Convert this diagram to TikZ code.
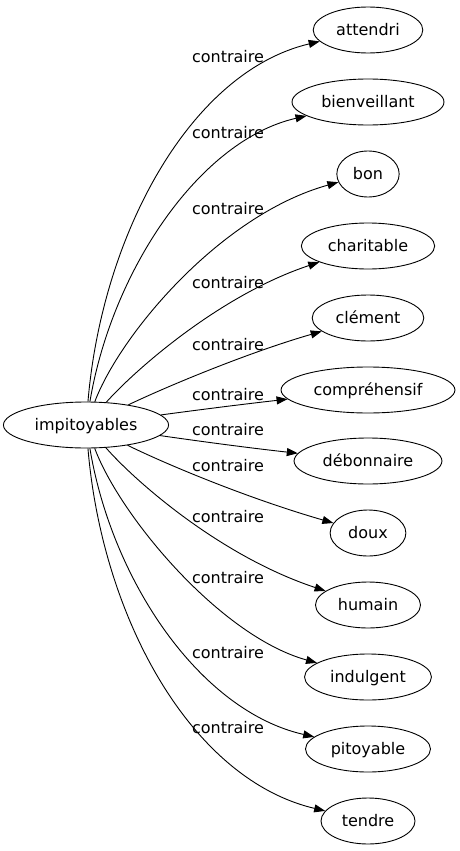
\documentclass[tikz,border=0pt]{standalone}
\usepackage{fontspec}
\setmainfont{DejaVu Sans}
\usetikzlibrary{shapes.geometric,arrows.meta}
\begin{document}
\begin{tikzpicture}[x=1pt,y=-1pt,
  word/.style={ellipse,draw,line width=0.9pt,inner xsep=7pt,inner ysep=2pt,
    minimum height=46pt,text height=12pt,text depth=1.5pt,
    font=\fontsize{16pt}{19pt}\selectfont},
  rel/.style={draw,line width=0.9pt,-{Triangle[length=11pt,width=8pt]}},
  lbl/.style={anchor=base,inner sep=0pt,font=\fontsize{16pt}{19pt}\selectfont}]
\useasboundingbox (0,0) rectangle (459,851);

\node[word] (imp) at (86,425) {impitoyables};
\node[word] (n1) at (368,30) {attendri};
\node[word] (n2) at (368,102) {bienveillant};
\node[word] (n3) at (368,174) {bon};
\node[word] (n4) at (368,246) {charitable};
\node[word] (n5) at (368,318) {clément};
\node[word] (n6) at (368,390) {compréhensif};
\node[word] (n7) at (368,461) {débonnaire};
\node[word] (n8) at (368,533) {doux};
\node[word] (n9) at (368,605) {humain};
\node[word] (n10) at (368,677) {indulgent};
\node[word] (n11) at (368,749) {pitoyable};
\node[word] (n12) at (368,821) {tendre};

\draw[rel] (imp) .. controls (102,235) and (190,72) .. (n1);
\draw[rel] (imp) .. controls (112,270) and (200,140) .. (n2);
\draw[rel] (imp) .. controls (120,335) and (220,215) .. (n3);
\draw[rel] (imp) .. controls (135,370) and (220,295) .. (n4);
\draw[rel] (imp) .. controls (170,385) and (250,352) .. (n5);
\draw[rel] (imp) .. controls (205,409) and (245,404) .. (n6);
\draw[rel] (imp) .. controls (205,442) and (250,448) .. (n7);
\draw[rel] (imp) .. controls (170,466) and (250,499) .. (n8);
\draw[rel] (imp) .. controls (135,481) and (220,556) .. (n9);
\draw[rel] (imp) .. controls (120,516) and (220,636) .. (n10);
\draw[rel] (imp) .. controls (112,581) and (200,711) .. (n11);
\draw[rel] (imp) .. controls (102,616) and (190,779) .. (n12);

\node[lbl] (l1) at (228,63) {contraire};
\node[lbl] (l2) at (228,138) {contraire};
\node[lbl] (l3) at (228,214) {contraire};
\node[lbl] (l4) at (228,288) {contraire};
\node[lbl] (l5) at (228,350) {contraire};
\node[lbl] (l6) at (228,400) {contraire};
\node[lbl] (l7) at (228,435) {contraire};
\node[lbl] (l8) at (228,471) {contraire};
\node[lbl] (l9) at (228,522) {contraire};
\node[lbl] (l10) at (228,583) {contraire};
\node[lbl] (l11) at (228,658) {contraire};
\node[lbl] (l12) at (228,733) {contraire};
\end{tikzpicture}
\end{document}
